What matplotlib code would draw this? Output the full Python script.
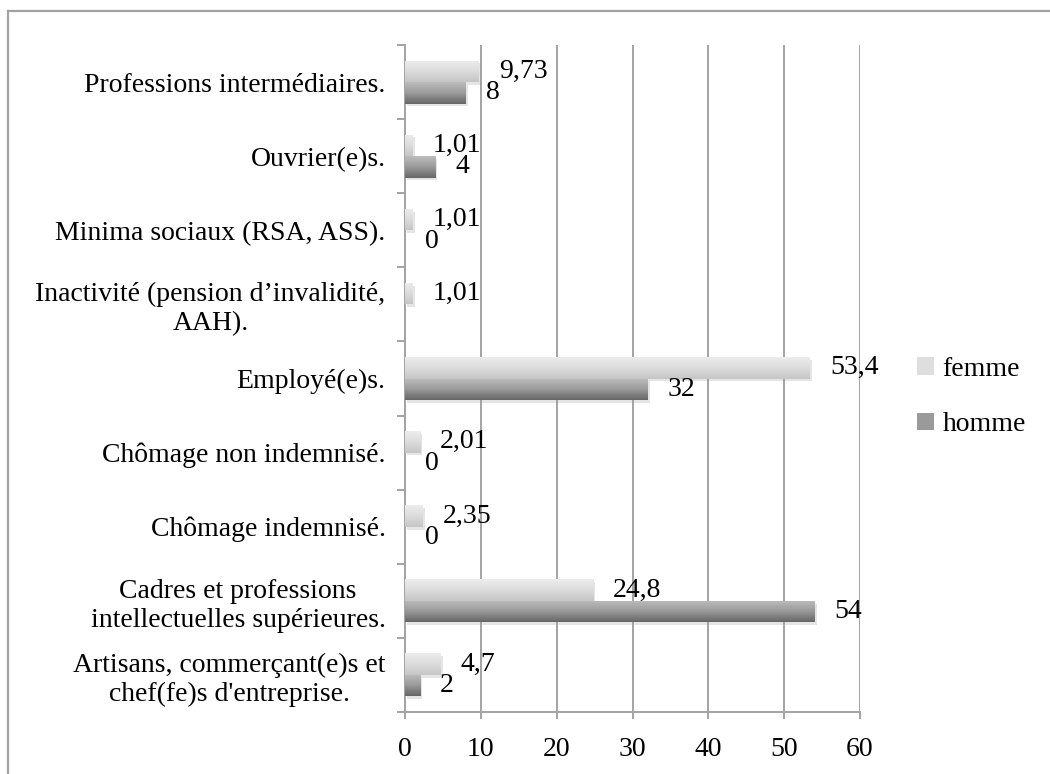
import numpy as np
import matplotlib
matplotlib.use("Agg")
from matplotlib import pyplot as plt
from matplotlib import patheffects as pe
from matplotlib.colors import LinearSegmentedColormap
from matplotlib.lines import Line2D
from matplotlib.patches import Patch

plt.rcParams["font.family"] = ["Liberation Serif", "DejaVu Serif"]
plt.rcParams["font.size"] = 20

categories = [
    "Artisans, commerçant(e)s et\nchef(fe)s d'entreprise.",
    "Cadres et professions\nintellectuelles supérieures.",
    "Chômage indemnisé.",
    "Chômage non indemnisé.",
    "Employé(e)s.",
    "Inactivité (pension d’invalidité,\nAAH).",
    "Minima sociaux (RSA, ASS).",
    "Ouvrier(e)s.",
    "Professions intermédiaires.",
]
femme = [4.7, 24.8, 2.35, 2.01, 53.4, 1.01, 1.01, 1.01, 9.73]
homme = [2, 54, 0, 0, 32, np.nan, 0, 4, 8]
x_ticks = [0, 10, 20, 30, 40, 50, 60]

GRID = "#a3a3a3"
femme_cmap = LinearSegmentedColormap.from_list("femme", ["#c6c6c6", "#dcdcdc", "#ececec"])
homme_cmap = LinearSegmentedColormap.from_list("homme", ["#666666", "#9a9a9a", "#bdbdbd"])


def fill_gradient(ax, bars, cmap):
    grad = np.linspace(0, 1, 64).reshape(-1, 1)
    for bar in bars:
        if bar.get_width() <= 0 or np.isnan(bar.get_width()):
            continue
        x0, y0 = bar.get_x(), bar.get_y()
        w, h = bar.get_width(), bar.get_height()
        im = ax.imshow(grad, cmap=cmap, aspect="auto", origin="lower",
                       extent=(x0, x0 + w, y0, y0 + h), zorder=3)
        im.set_clip_path(bar)


def label_bars(ax, values, ypos):
    for v, y in zip(values, ypos):
        if np.isnan(v):
            continue
        txt = f"{v:g}".replace(".", ",")
        ax.annotate(txt, xy=(v, y), xytext=(14.4, 0), textcoords="offset points",
                    ha="left", va="center", zorder=5)


def main():
    fig = plt.figure(figsize=(10.5, 7.74), dpi=100)
    ax = fig.add_axes([405 / 1050, 62 / 774, 455 / 1050, 667 / 774])

    y = np.arange(len(categories))
    h = 0.29
    shadow = [pe.SimplePatchShadow(offset=(1.5, -2), shadow_rgbFace="#9a9a9a", alpha=0.25), pe.Normal()]
    fb = ax.barh(y + h / 2, femme, height=h, color="#dcdcdc", zorder=2, path_effects=shadow)
    hb = ax.barh(y - h / 2, np.nan_to_num(homme), height=h, color="#9a9a9a", zorder=2,
                 path_effects=shadow)
    for bar, v in zip(hb, homme):
        if np.isnan(v) or v == 0:
            bar.set_visible(False)
    for bar, v in zip(fb, femme):
        if v == 0:
            bar.set_visible(False)

    ax.set_xlim(0, 60)
    ax.set_ylim(-0.5, len(categories) - 0.5)
    fill_gradient(ax, fb, femme_cmap)
    fill_gradient(ax, [b for b in hb if b.get_visible()], homme_cmap)

    label_bars(ax, femme, y + h / 2)
    label_bars(ax, homme, y - h / 2)

    ax.set_xticks(x_ticks)
    ax.set_xticklabels([str(t) for t in x_ticks])
    ax.set_yticks(y)
    ax.set_yticklabels(categories, multialignment="center")
    ax.set_yticks(np.arange(len(categories) + 1) - 0.5, minor=True)
    ax.tick_params(axis="y", which="major", length=0, pad=14)
    ax.tick_params(axis="y", which="minor", length=5.5, width=1.4, color=GRID, direction="out")
    ax.tick_params(axis="x", length=5, width=1.4, color=GRID, direction="out", pad=13)

    ax.xaxis.grid(True, color=GRID, linewidth=1.4, zorder=0)
    ax.set_axisbelow(True)
    for side in ("top", "right"):
        ax.spines[side].set_visible(False)
    for side in ("left", "bottom"):
        ax.spines[side].set_color(GRID)
        ax.spines[side].set_linewidth(1.4)

    handles = [Patch(facecolor="#dedede", edgecolor="none"),
               Patch(facecolor="#9a9a9a", edgecolor="none")]
    fig.legend(handles, ["femme", "homme"], loc="center left",
               bbox_to_anchor=(898 / 1050, 1 - 397 / 774), frameon=False,
               handlelength=0.6, handleheight=0.6, handletextpad=0.3,
               labelspacing=1.1, borderpad=0.2)

    # outer frame (left and top edges only visible)
    fig.add_artist(Line2D([8 / 1050, 8 / 1050], [0, 1 - 11 / 774], color=GRID, linewidth=1.6))
    fig.add_artist(Line2D([8 / 1050, 1], [1 - 11 / 774, 1 - 11 / 774], color=GRID, linewidth=1.6))

    fig.savefig("out.png", dpi=100)


if __name__ == "__main__":
    main()
